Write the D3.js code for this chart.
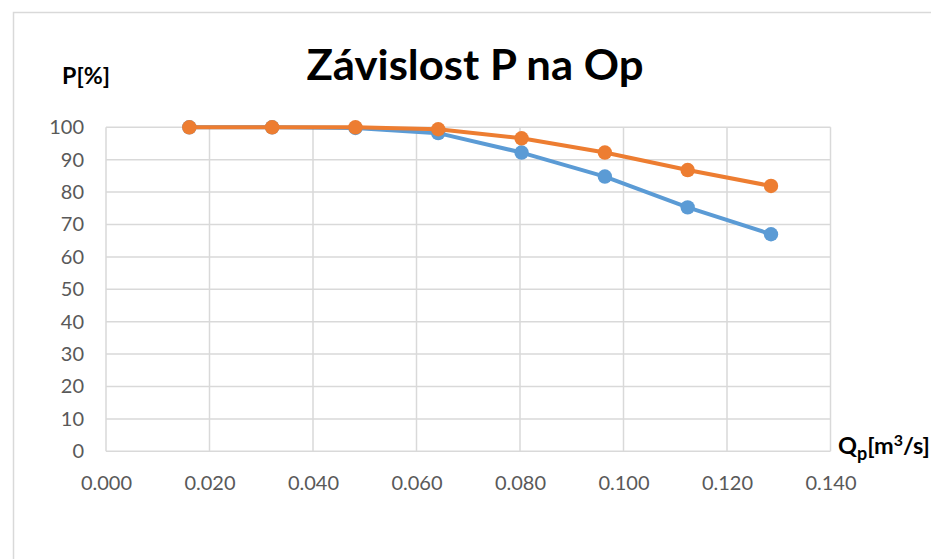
<!DOCTYPE html>
<html><head><meta charset="utf-8">
<script src="https://cdn.jsdelivr.net/npm/d3@7"></script>
<style>body{margin:0;background:#fff;} svg{display:block;}</style>
</head><body>
<svg id="c" width="931" height="559"></svg>
<script>
const qValues = [0.0161, 0.0321, 0.0482, 0.0642, 0.0803, 0.0964, 0.1124, 0.1285];
const seriesBlue = [100, 100, 99.8, 98.2, 92.2, 84.8, 75.3, 67.0];
const seriesOrange = [100, 100, 100, 99.4, 96.6, 92.2, 86.8, 81.9];
const xTicks = [0, 0.02, 0.04, 0.06, 0.08, 0.10, 0.12, 0.14];
const yTicks = [0, 10, 20, 30, 40, 50, 60, 70, 80, 90, 100];
const title = "Závislost P na Op";

const svg = d3.select("#c");
const font = "Lato, 'Open Sans', sans-serif";
const L = 106, R = 830.5, T = 127.3, B = 451.3;
const x = d3.scaleLinear().domain([0, 0.14]).range([L, R]);
const y = d3.scaleLinear().domain([0, 100]).range([B, T]);

// chart border
svg.append("path").attr("d", "M13.5,559 V12.5 H931").attr("fill", "none").attr("stroke", "#d9d9d9").attr("stroke-width", 1.5);

// grid
const g = svg.append("g");
g.selectAll(".hg").data(yTicks).join("line")
  .attr("x1", L).attr("x2", R).attr("y1", d => y(d)).attr("y2", d => y(d))
  .attr("stroke", "#d9d9d9").attr("stroke-width", 1.5);
g.selectAll(".vg").data(xTicks).join("line")
  .attr("y1", T).attr("y2", B).attr("x1", d => x(d)).attr("x2", d => x(d))
  .attr("stroke", "#d9d9d9").attr("stroke-width", 1.5);

// axes labels
const yAxis = d3.axisLeft(y).tickValues(yTicks).tickSize(0).tickPadding(22);
const ya = svg.append("g").attr("transform", `translate(${L},0)`).call(yAxis);
ya.select(".domain").remove();
ya.selectAll("text").attr("font-family", font).attr("font-size", 20).attr("fill", "#595959");

const xAxis = d3.axisBottom(x).tickValues(xTicks).tickSize(0).tickPadding(24.5).tickFormat(d3.format(".3f"));
const xa = svg.append("g").attr("transform", `translate(0,${B})`).call(xAxis);
xa.select(".domain").remove();
xa.selectAll("text").attr("font-family", font).attr("font-size", 20).attr("fill", "#595959");

// series
const data = qValues.map((q, i) => ({q, b: seriesBlue[i], o: seriesOrange[i]}));
function drawSeries(key, color) {
  const line = d3.line().x(d => x(d.q)).y(d => y(d[key]));
  svg.append("path").datum(data).attr("d", line).attr("fill", "none")
    .attr("stroke", color).attr("stroke-width", 4).attr("stroke-linejoin", "round");
  svg.append("g").selectAll("circle").data(data).join("circle")
    .attr("cx", d => x(d.q)).attr("cy", d => y(d[key])).attr("r", 7.2).attr("fill", color);
}
drawSeries("b", "#5b9bd5");
drawSeries("o", "#ed7d31");

// title
svg.append("text").attr("x", 475).attr("y", 80).attr("text-anchor", "middle")
  .attr("font-family", font).attr("font-weight", "bold").attr("font-size", 42)
  .attr("textLength", 337).attr("lengthAdjust", "spacingAndGlyphs")
  .attr("fill", "#000").text(title);

// y label
svg.append("text").attr("x", 62).attr("y", 84).attr("font-family", font).attr("font-weight", "bold")
  .attr("font-size", 22).attr("textLength", 48).attr("lengthAdjust", "spacingAndGlyphs")
  .attr("fill", "#000").text("P[%]");

// x label
const xl = svg.append("text").attr("x", 838).attr("y", 454).attr("font-family", font).attr("font-weight", "bold")
  .attr("font-size", 23.5).attr("fill", "#000");
xl.append("tspan").text("Q");
xl.append("tspan").attr("font-size", 18).attr("dy", 6).text("p");
xl.append("tspan").attr("dy", -6).text("[m");
xl.append("tspan").attr("font-size", 16).attr("dy", -8).text("3");
xl.append("tspan").attr("dy", 8).text("/s]");
</script>
</body></html>
